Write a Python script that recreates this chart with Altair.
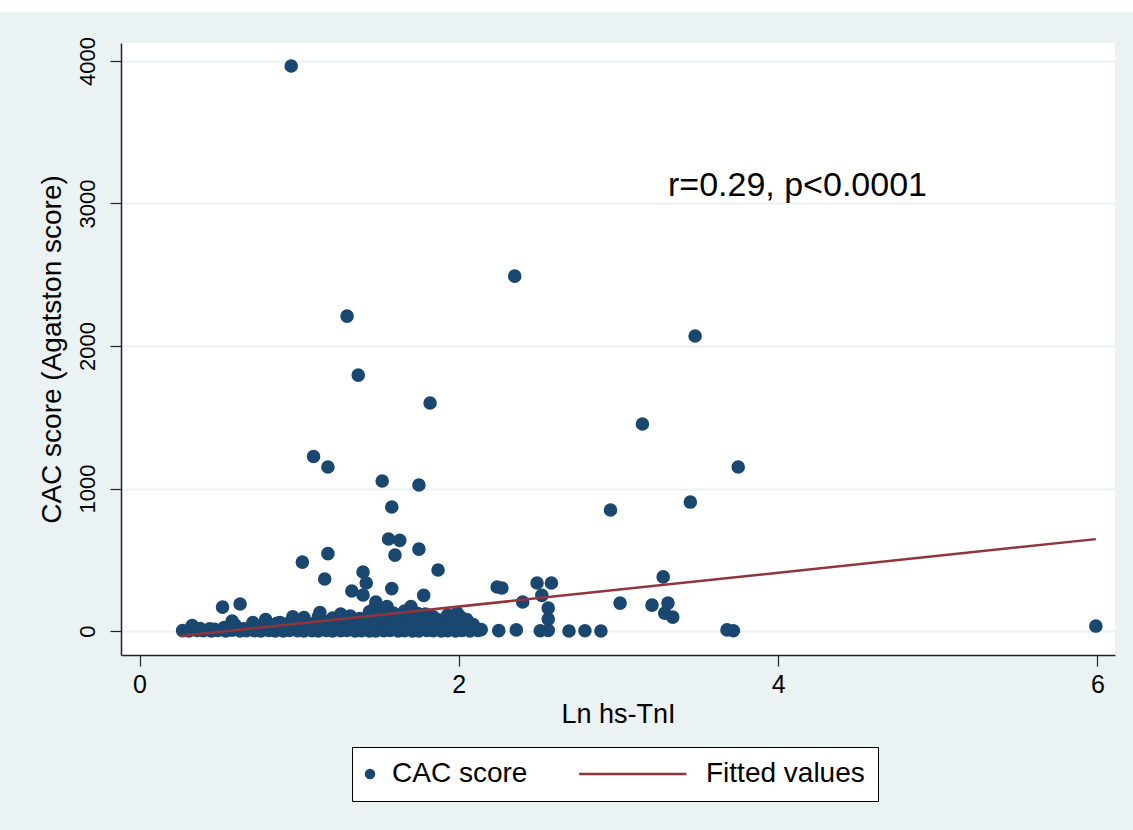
import altair as alt
import pandas as pd

# ---- data ----
# Ln hs-TnI (x) and CAC score (y) for each patient point
ln_tni = [
    # high / medium values
    0.95, 2.35, 1.30, 1.37, 1.82, 3.48, 3.15, 1.09, 1.18, 3.75,
    1.52, 1.75, 1.58, 3.45, 2.95, 1.56, 1.63, 1.18, 1.02, 1.60,
    1.75, 1.87, 1.40, 1.16, 3.28, 2.24, 2.27, 2.49, 2.58, 2.52,
    2.40, 3.01, 3.21, 3.31, 3.29, 3.34, 2.56, 2.56, 0.52, 0.63,
    1.42, 1.33, 1.40, 1.58, 1.78, 1.48, 1.55, 1.70, 1.46, 1.59,
    1.93, 1.99,
    # sparse near-zero values on the right
    2.12, 2.25, 2.36, 2.51, 2.56, 2.69, 2.79, 2.89, 3.68, 3.72, 5.99,
    # dense band, lowest row
    0.27, 0.31, 0.36, 0.40, 0.45, 0.49, 0.54, 0.58, 0.63, 0.67,
    0.72, 0.76, 0.81, 0.85, 0.90, 0.94, 0.99, 1.03, 1.08, 1.12,
    1.17, 1.21, 1.26, 1.30, 1.35, 1.39, 1.44, 1.48, 1.53, 1.57,
    1.62, 1.66, 1.71, 1.75, 1.80, 1.84, 1.89, 1.93, 1.98, 2.02, 2.07,
    # dense band, second row
    0.33, 0.44, 0.53, 0.60, 0.69, 0.78, 0.84, 0.92, 0.98, 1.05,
    1.11, 1.19, 1.24, 1.31, 1.37, 1.42, 1.50, 1.55, 1.61, 1.67,
    1.73, 1.79, 1.83, 1.90, 1.96, 2.03, 2.10,
    # dense band, third row
    0.58, 0.79, 0.96, 1.03, 1.12, 1.21, 1.32, 1.38, 1.45, 1.50,
    1.57, 1.63, 1.68, 1.73, 1.78, 1.84, 1.88, 2.01, 2.05,
    # dense band, fill between rows
    1.08, 1.15, 1.27, 1.35, 1.41, 1.47, 1.53, 1.60, 1.65, 1.71,
    1.76, 1.82, 1.87, 1.94, 1.52, 1.66, 1.74,
    # dense band, extra filling
    0.38, 0.47, 0.56, 0.65, 0.74, 0.83, 0.88, 0.93, 1.00, 1.06,
    1.10, 1.14, 1.20, 1.25, 1.29, 1.34, 1.39, 1.43, 1.49, 1.54,
    1.58, 1.63, 1.69, 1.72, 1.77, 1.81, 1.86, 1.91, 1.97, 2.00,
    2.06, 2.09, 2.14, 1.26, 1.44, 1.61, 1.79, 1.13, 0.86, 0.71,
]
cac_score = [
    3965, 2490, 2210, 1796, 1600, 2070, 1453, 1225, 1151, 1151,
    1053, 1025, 870, 905, 849, 646, 636, 543, 484, 533,
    575, 428, 414, 365, 380, 309, 302, 337, 337, 250,
    204, 196, 182, 196, 126, 98, 161, 84, 168, 190,
    337, 281, 253, 298, 250, 204, 172, 172, 147, 126,
    112, 126,
    5, 3, 8, 2, 5, 0, 2, 0, 8, 2, 35,
    3, 0, 5, 2, 0, 4, 1, 6, 0, 3,
    2, 0, 5, 1, 0, 4, 2, 0, 3, 1,
    5, 0, 2, 4, 0, 3, 1, 0, 2, 5,
    0, 3, 1, 0, 4, 2, 0, 3, 1, 5, 0,
    38, 15, 25, 40, 22, 45, 30, 50, 35, 48,
    28, 44, 55, 33, 50, 38, 55, 42, 30, 52,
    38, 48, 25, 44, 30, 22, 18,
    70, 80, 100, 95, 100, 92, 105, 88, 110, 95,
    108, 92, 118, 100, 85, 100, 78, 100, 80,
    20, 70, 25, 75, 20, 65, 22, 70, 18, 75,
    22, 68, 20, 60, 130, 140, 125,
    18, 12, 20, 15, 25, 12, 60, 20, 62, 25,
    58, 15, 72, 30, 80, 18, 75, 28, 82, 20,
    78, 60, 35, 85, 55, 30, 65, 20, 55, 40,
    12, 45, 10, 120, 135, 110, 120, 130, 55, 60,
]

# fitted regression line, end points
fit_x = [0.254, 5.99]
fit_y = [-35, 645]

series_names = ["CAC score", "Fitted values"]
annot_text = ["r=0.29, p<0.0001"]
annot_x = [3.31]
annot_y = [3053]

x_ticks = [0, 2, 4, 6]
y_ticks = [0, 1000, 2000, 3000, 4000]

# ---- styling ----
NAVY = "#1A476F"
MAROON = "#90353B"
BG = "#EAF2F3"
FONT = "Liberation Sans"

pts = pd.DataFrame({"x": ln_tni, "y": cac_score, "series": "CAC score"})
fit = pd.DataFrame({"x": fit_x, "y": fit_y})
ann = pd.DataFrame({"x": annot_x, "y": annot_y, "t": annot_text})

xscale = alt.Scale(domain=[-0.116, 6.11], nice=False, zero=False)
yscale = alt.Scale(domain=[-168, 4126], nice=False, zero=False)

xaxis = alt.Axis(
    values=x_ticks, format="d", title="Ln hs-TnI", grid=False,
    labelFontSize=25, titleFontSize=27, labelFont=FONT, titleFont=FONT,
    labelColor="black", titleColor="black", titleFontWeight="normal",
    domainColor="#222", domainWidth=1.5, tickColor="#222", tickWidth=1.2,
    tickSize=11, labelPadding=6, titlePadding=4,
)
yaxis = alt.Axis(
    values=y_ticks, format="d", title="CAC score (Agatston score)", grid=True,
    gridColor=BG, gridWidth=2,
    labelFontSize=22, titleFontSize=28, labelFont=FONT, titleFont=FONT,
    labelColor="black", titleColor="black", titleFontWeight="normal",
    labelAngle=-90, labelAlign="center", labelBaseline="alphabetic",
    domainColor="#222", domainWidth=1.5, tickColor="#222", tickWidth=1.2,
    tickSize=11, labelPadding=16, titlePadding=10,
)

line_path = "M-20,-0.22L0.45,-0.22L0.45,0.22L-20,0.22Z"

points = alt.Chart(pts).mark_point(filled=True, opacity=1, size=185).encode(
    x=alt.X("x:Q", scale=xscale, axis=xaxis),
    y=alt.Y("y:Q", scale=yscale, axis=yaxis),
    color=alt.Color(
        "series:N",
        scale=alt.Scale(domain=series_names, range=[NAVY, MAROON]),
        legend=alt.Legend(
            title=None, orient="none", legendX=231, legendY=704,
            direction="horizontal", fillColor="white", strokeColor="black",
            padding=13, labelFontSize=28, labelFont=FONT, labelColor="black",
            symbolSize=110, labelOffset=8, symbolOffset=-9, columnPadding=51,
            symbolOpacity=1,
        ),
    ),
    shape=alt.Shape(
        "series:N",
        scale=alt.Scale(domain=series_names, range=["circle", line_path]),
        legend=None,
    ),
)

fitline = alt.Chart(fit).mark_line(color=MAROON, strokeWidth=2.5).encode(
    x=alt.X("x:Q", scale=xscale),
    y=alt.Y("y:Q", scale=yscale),
)

text = alt.Chart(ann).mark_text(
    align="left", baseline="alphabetic", fontSize=34, font=FONT, color="black"
).encode(
    x=alt.X("x:Q", scale=xscale),
    y=alt.Y("y:Q", scale=yscale),
    text="t:N",
)

top_strip = alt.Chart(alt.Data(values=[{}])).mark_rect(color="white").encode(
    x=alt.value(-121), x2=alt.value(1012), y=alt.value(-43), y2=alt.value(-31)
)

chart = alt.layer(top_strip, points, fitline, text).properties(
    width=994, height=612,
    autosize=alt.AutoSizeParams(type="none"),
    padding={"left": 121, "top": 43, "right": 18, "bottom": 175},
    background=BG,
).configure_view(stroke=None, fill="white")

chart.save("out.html", embed_options={"renderer": "svg", "actions": False})
